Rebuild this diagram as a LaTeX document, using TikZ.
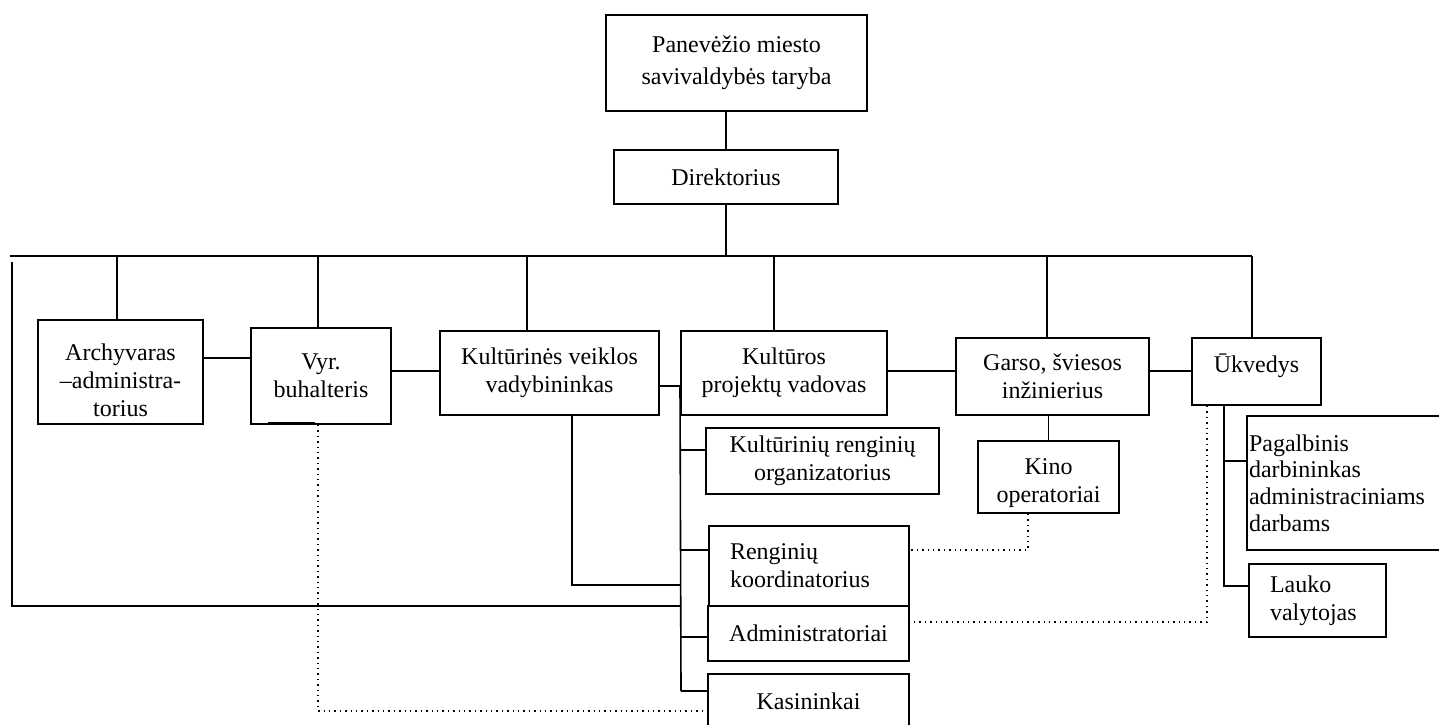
\documentclass[tikz,border=0pt]{standalone}
\usepackage{fontspec}
\setmainfont{Liberation Serif}

\tikzset{
	box/.style={draw, line width=1pt, inner sep=1pt, align=center, font=\fontsize{12}{14}\selectfont},
	leftbox/.style={box, align=left, inner xsep=10.5pt},
	link/.style={line width=0.8pt},
	dots/.style={dotted, line width=0.7pt}
}

\begin{document}
\begin{tikzpicture}[x=0.5pt, y=-0.5pt]
			%%%	Frame
			\useasboundingbox (0,0) rectangle (1439,724);
			\clip (0,0) rectangle (1439,724);
			%%%	Boxes
			\node[box, minimum width=130.5pt, minimum height=48pt, font=\fontsize{12}{16}\selectfont] (taryba) at (736.5,63) {Panevėžio miesto\\savivaldybės taryba};
			\node[box, minimum width=112pt, minimum height=27pt] (direktorius) at (726,177) {Direktorius};
			\node[box, minimum width=82.5pt, minimum height=52pt] (archyvaras) at (120.5,372) {\rule{0pt}{16.5pt}Archyvaras\\–administra-\\torius};
			\node[box, minimum width=70pt, minimum height=48pt] (buhalteris) at (321,376) {Vyr.\\buhalteris};
			\node[box, minimum width=109.5pt, minimum height=42pt] (vadybininkas) at (549.5,373) {Kultūrinės veiklos\\vadybininkas};
			\node[box, minimum width=103pt, minimum height=42pt] (vadovas) at (784,373) {Kultūros\\projektų vadovas};
			\node[box, minimum width=96.5pt, minimum height=38.5pt] (inzinierius) at (1052.5,376.5) {Garso, šviesos\\inžinierius};
			\node[box, minimum width=64.5pt, minimum height=33.5pt, text depth=8.5pt] (ukvedys) at (1256.5,371.5) {Ūkvedys};
			\node[box, minimum width=70.5pt, minimum height=36pt] (kino) at (1048.5,477) {\rule{0pt}{14.5pt}Kino\\operatoriai};
			\node[box, text width=96pt, minimum height=67pt, align=left, font=\fontsize{12}{13.3}\selectfont] (pagalbinis) at (1345,483) {Pagalbinis\\darbininkas\\administraciniams\\darbams};
			\node[leftbox, text width=47.5pt, minimum height=36.5pt] (lauko) at (1317.5,600.5) {Lauko\\valytojas};
			\node[box, minimum width=116.5pt, minimum height=33pt] (organizatorius) at (822.5,461) {Kultūrinių renginių\\organizatorius};
			\node[leftbox, text width=79pt, minimum height=40pt] (koordinatorius) at (809,566) {Renginių\\koordinatorius};
			\node[box, minimum width=100.5pt, minimum height=27.5pt] (administratoriai) at (808.5,633.5) {Administratoriai};
			\node[box, minimum width=100.5pt, minimum height=27pt] (kasininkai) at (808.5,701) {Kasininkai};
			%%%	Main line
			\coordinate (busL) at (10,256);
			\coordinate (busR) at (1252,256);
			\draw[link] (direktorius.north) -- (direktorius.north |- taryba.south);
			\draw[link] (direktorius.south) -- (direktorius.south |- busL);
			\draw[link] (busL) -- (busR);
			\foreach \x/\n in {117/archyvaras, 318/buhalteris, 527/vadybininkas, 774/vadovas, 1047/inzinierius, 1252/ukvedys}
			\draw[link] (\x,256) -- (\x,256 |- \n.north);
			%%%	Side links
			\draw[link] (archyvaras.east |- 0,358) -- (buhalteris.west |- 0,358);
			\draw[link] (buhalteris.east |- 0,371) -- (vadybininkas.west |- 0,371);
			\draw[link] (vadybininkas.east |- 0,386) -- (vadovas.west |- 0,386);
			\draw[link] (vadovas.east |- 0,371) -- (inzinierius.west |- 0,371);
			\draw[link] (inzinierius.east |- 0,371) -- (ukvedys.west |- 0,371);
			\draw[link] (kino.north) -- (kino.north |- inzinierius.south);
			%%%	Left column
			\coordinate (stem) at (681,691);
			\draw[link] (vadovas.west |- 0,386) -- (stem);
			\foreach \y/\n in {450/organizatorius, 550/koordinatorius, 637/administratoriai, 691/kasininkai}
			\draw[link] (681,\y) -- (\n.west |- 0,\y);
			\draw[link] (vadybininkas.south -| 572,0) |- (681,585);
			\draw[link] (12,262) |- (681,606);
			%%%	Right column
			\draw[link] (ukvedys.south -| 1224,0) |- (lauko.west |- 0,586);
			\draw[link] (1224,461) -- (pagalbinis.west |- 0,461);
			%%%	Dotted links
			\draw[line width=1.3pt] (268,423) -- (315,423);
			\draw[dots] (buhalteris.south -| 318,0) |- (kasininkai.west |- 0,711);
			\draw[dots] (kino.south -| 1028,0) |- (koordinatorius.east |- 0,550);
			\draw[dots] (ukvedys.south -| 1207,0) |- (administratoriai.east |- 0,622);
		\end{tikzpicture}
\end{document}
